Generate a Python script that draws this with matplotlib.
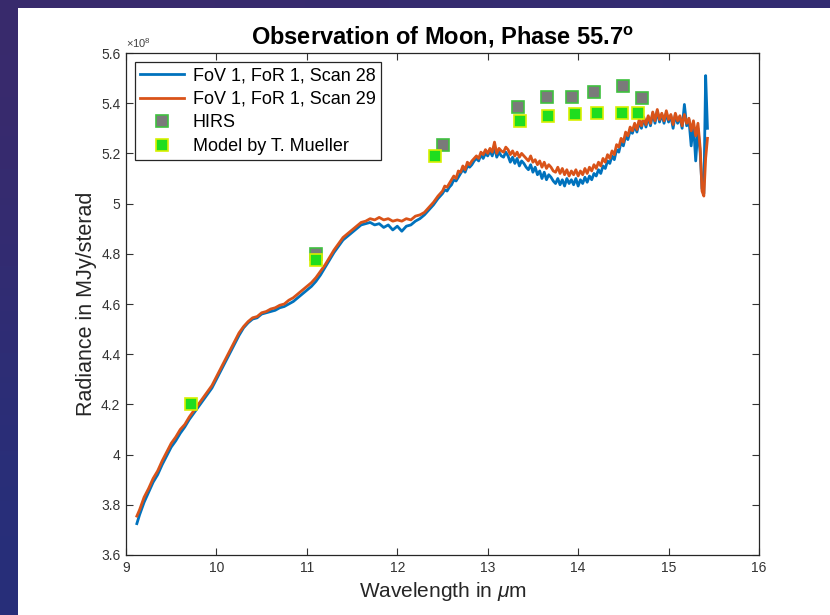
import matplotlib
matplotlib.use("Agg")
import matplotlib.pyplot as plt
from matplotlib.patches import Rectangle
from matplotlib.colors import LinearSegmentedColormap

# wavelength grid (um), coarse part then fine part
wl_coarse = [
    9.12, 9.15, 9.20, 9.25, 9.30, 9.35, 9.40, 9.45, 9.50, 9.55,
    9.60, 9.65, 9.70, 9.75, 9.80, 9.85, 9.90, 9.95, 10.00, 10.05,
    10.10, 10.15, 10.20, 10.25, 10.30, 10.35, 10.40, 10.45, 10.50, 10.55,
    10.60, 10.65, 10.70, 10.75, 10.80, 10.85, 10.90, 10.95, 11.00, 11.05,
    11.10, 11.15, 11.20, 11.25, 11.30, 11.35, 11.40, 11.45, 11.50, 11.55,
    11.60, 11.65, 11.70, 11.75, 11.80, 11.85, 11.90, 11.95, 12.00, 12.05,
    12.10, 12.15, 12.20, 12.25, 12.30, 12.35, 12.40, 12.45,
]
wl_fine = [
    12.500, 12.525, 12.550, 12.575, 12.600, 12.625, 12.650, 12.675, 12.700, 12.725,
    12.750, 12.775, 12.800, 12.825, 12.850, 12.875, 12.900, 12.925, 12.950, 12.975,
    13.000, 13.025, 13.050, 13.075, 13.100, 13.125, 13.150, 13.175, 13.200, 13.225,
    13.250, 13.275, 13.300, 13.325, 13.350, 13.375, 13.400, 13.425, 13.450, 13.475,
    13.500, 13.525, 13.550, 13.575, 13.600, 13.625, 13.650, 13.675, 13.700, 13.725,
    13.750, 13.775, 13.800, 13.825, 13.850, 13.875, 13.900, 13.925, 13.950, 13.975,
    14.000, 14.025, 14.050, 14.075, 14.100, 14.125, 14.150, 14.175, 14.200, 14.225,
    14.250, 14.275, 14.300, 14.325, 14.350, 14.375, 14.400, 14.425, 14.450, 14.475,
    14.500, 14.525, 14.550, 14.575, 14.600, 14.625, 14.650, 14.675, 14.700, 14.725,
    14.750, 14.775, 14.800, 14.825, 14.850, 14.875, 14.900, 14.925, 14.950, 14.975,
    15.000, 15.025, 15.050, 15.075, 15.100, 15.125, 15.150, 15.175, 15.200, 15.225,
    15.250, 15.275, 15.300, 15.325, 15.350, 15.370, 15.390, 15.410, 15.430,
]
wavelength = wl_coarse + wl_fine

# radiance in units of 1e8 MJy/sterad
scan28 = [
    3.725, 3.76, 3.81, 3.85, 3.89, 3.92, 3.96, 3.995, 4.03, 4.055,
    4.085, 4.11, 4.14, 4.165, 4.19, 4.215, 4.24, 4.265, 4.30, 4.335,
    4.37, 4.405, 4.44, 4.475, 4.505, 4.525, 4.54, 4.545, 4.56, 4.565,
    4.57, 4.575, 4.585, 4.59, 4.60, 4.61, 4.625, 4.64, 4.655, 4.67,
    4.69, 4.715, 4.745, 4.775, 4.805, 4.83, 4.855, 4.87, 4.885, 4.90,
    4.915, 4.92, 4.925, 4.915, 4.92, 4.905, 4.915, 4.895, 4.91, 4.89,
    4.91, 4.915, 4.93, 4.94, 4.955, 4.975, 4.995, 5.02,
    5.04, 5.055, 5.05, 5.065, 5.075, 5.095, 5.09, 5.105, 5.12, 5.135,
    5.125, 5.15, 5.145, 5.155, 5.17, 5.18, 5.17, 5.195, 5.18, 5.20,
    5.19, 5.21, 5.19, 5.225, 5.185, 5.205, 5.19, 5.185, 5.205, 5.19,
    5.165, 5.185, 5.16, 5.18, 5.15, 5.17, 5.16, 5.145, 5.135, 5.155,
    5.125, 5.145, 5.115, 5.13, 5.10, 5.125, 5.095, 5.115, 5.105, 5.09,
    5.08, 5.10, 5.075, 5.095, 5.07, 5.10, 5.08, 5.095, 5.075, 5.10,
    5.07, 5.095, 5.08, 5.105, 5.085, 5.11, 5.095, 5.12, 5.11, 5.135,
    5.12, 5.15, 5.14, 5.17, 5.16, 5.19, 5.175, 5.215, 5.205, 5.245,
    5.23, 5.27, 5.255, 5.29, 5.28, 5.31, 5.285, 5.325, 5.30, 5.34,
    5.305, 5.345, 5.31, 5.36, 5.32, 5.37, 5.325, 5.355, 5.32, 5.36,
    5.325, 5.35, 5.30, 5.355, 5.32, 5.345, 5.30, 5.395, 5.31, 5.335,
    5.23, 5.32, 5.17, 5.30, 5.20, 5.06, 5.04, 5.51, 5.30,
]

scan29 = [
    3.755, 3.78, 3.83, 3.865, 3.905, 3.935, 3.975, 4.01, 4.045, 4.07,
    4.10, 4.12, 4.15, 4.175, 4.20, 4.225, 4.25, 4.275, 4.31, 4.345,
    4.38, 4.415, 4.45, 4.485, 4.51, 4.53, 4.545, 4.55, 4.565, 4.57,
    4.58, 4.585, 4.595, 4.60, 4.615, 4.625, 4.64, 4.655, 4.67, 4.685,
    4.705, 4.73, 4.755, 4.785, 4.815, 4.84, 4.865, 4.88, 4.895, 4.91,
    4.925, 4.93, 4.94, 4.935, 4.945, 4.935, 4.94, 4.93, 4.935, 4.93,
    4.94, 4.935, 4.95, 4.955, 4.965, 4.985, 5.005, 5.03,
    5.05, 5.07, 5.065, 5.08, 5.095, 5.11, 5.10, 5.13, 5.125, 5.15,
    5.135, 5.165, 5.155, 5.17, 5.18, 5.19, 5.18, 5.205, 5.195, 5.215,
    5.20, 5.22, 5.205, 5.245, 5.20, 5.22, 5.21, 5.205, 5.225, 5.215,
    5.195, 5.21, 5.19, 5.205, 5.185, 5.20, 5.19, 5.18, 5.17, 5.19,
    5.165, 5.175, 5.155, 5.17, 5.145, 5.165, 5.14, 5.155, 5.145, 5.13,
    5.125, 5.145, 5.12, 5.14, 5.115, 5.135, 5.11, 5.13, 5.115, 5.135,
    5.11, 5.13, 5.115, 5.14, 5.12, 5.145, 5.13, 5.155, 5.14, 5.165,
    5.15, 5.18, 5.165, 5.195, 5.18, 5.21, 5.195, 5.235, 5.225, 5.26,
    5.245, 5.285, 5.27, 5.305, 5.29, 5.32, 5.295, 5.335, 5.31, 5.345,
    5.315, 5.35, 5.32, 5.365, 5.33, 5.375, 5.335, 5.36, 5.33, 5.37,
    5.335, 5.355, 5.315, 5.36, 5.33, 5.35, 5.31, 5.355, 5.32, 5.34,
    5.29, 5.33, 5.27, 5.32, 5.22, 5.05, 5.03, 5.18, 5.26,
]

hirs_wl = [11.1, 12.51, 13.33, 13.66, 13.93, 14.17, 14.5, 14.71]
hirs_rad = [4.80, 5.235, 5.385, 5.425, 5.425, 5.445, 5.47, 5.42]

model_wl = [9.72, 11.1, 12.42, 13.36, 13.67, 13.96, 14.21, 14.48, 14.66]
model_rad = [4.20, 4.775, 5.19, 5.33, 5.35, 5.355, 5.36, 5.36, 5.36]

plt.rcParams['font.family'] = ['Liberation Sans', 'DejaVu Sans']
plt.rcParams['mathtext.fontset'] = 'custom'
plt.rcParams['mathtext.rm'] = 'Liberation Sans'
plt.rcParams['mathtext.it'] = 'Liberation Sans:italic'
plt.rcParams['mathtext.bf'] = 'Liberation Sans:bold'

fig = plt.figure(figsize=(8.3, 6.15), dpi=100)

# slide background + white figure panel
bg = fig.add_axes([0, 0, 1, 1], zorder=-10)
bg.imshow([[0.0, 0.3], [0.8, 1.0]],
          cmap=LinearSegmentedColormap.from_list("slide", ["#3a2a6c", "#22307e"]),
          aspect='auto', interpolation='bicubic', extent=[0, 1, 0, 1])
bg.set_axis_off()
fig.patches.append(Rectangle((18 / 830, 0), 1 - 18 / 830, 1 - 8 / 615,
                             transform=fig.transFigure, facecolor='white',
                             edgecolor='none', zorder=-5))

ax = fig.add_axes([126 / 830, 1 - 555 / 615, (759 - 126) / 830, (555 - 53) / 615])
ax.plot(wavelength, scan28, color='#0072BD', lw=2.0, label='FoV 1, FoR 1, Scan 28')
ax.plot(wavelength, scan29, color='#D95319', lw=2.0, label='FoV 1, FoR 1, Scan 29')
ax.plot(hirs_wl, hirs_rad, 's', ms=9, mfc='#7a7a7a', mec='#3fc03f', mew=1.2,
        ls='none', label='HIRS')
ax.plot(model_wl, model_rad, 's', ms=9, mfc='#1fdd1f', mec='#d8f000', mew=1.2,
        ls='none', label='Model by T. Mueller')

ax.set_xlim(9, 16)
ax.set_ylim(3.6, 5.6)
ax.set_xticks(range(9, 17))
ax.set_yticks([3.6, 3.8, 4.0, 4.2, 4.4, 4.6, 4.8, 5.0, 5.2, 5.4, 5.6])
ax.set_yticklabels(['3.6', '3.8', '4', '4.2', '4.4', '4.6', '4.8', '5', '5.2', '5.4', '5.6'])
ax.tick_params(direction='in', top=True, right=True, labelsize=10, colors='#333333',
               length=5, width=0.8, pad=4)
for s in ax.spines.values():
    s.set_color('#262626')
    s.set_linewidth(0.9)

ax.set_xlabel(r'Wavelength in $\mu$m', fontsize=15, color='#262626', labelpad=4)
ax.set_ylabel('Radiance in MJy/sterad', fontsize=15.5, color='#262626', labelpad=3)
ax.set_title(r'Observation of Moon, Phase 55.7$^{\mathbf{o}}$', fontsize=17,
             fontweight='bold', pad=6)
ax.text(0.0, 1.005, r'$\times10^{8}$', transform=ax.transAxes, fontsize=8,
        color='#404040', ha='left', va='bottom')

leg = ax.legend(loc='upper left', fontsize=13, frameon=True, fancybox=False,
                framealpha=1, edgecolor='#262626', handlelength=2.4,
                borderaxespad=0.5, labelspacing=0.36, borderpad=0.3,
                handletextpad=0.5)
leg.get_frame().set_linewidth(0.9)

fig.savefig('out.png', dpi=100)
